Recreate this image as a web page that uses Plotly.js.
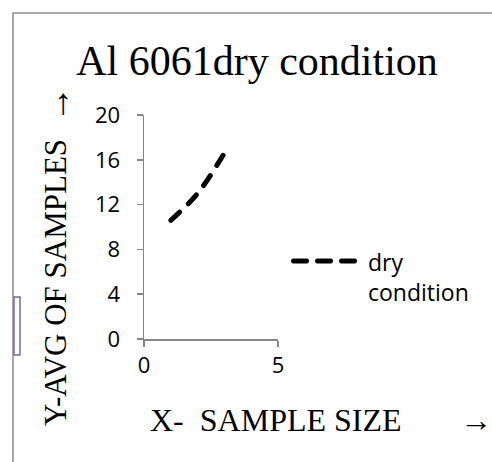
<!DOCTYPE html>
<html>
<head>
<meta charset="utf-8">
<script src="https://cdn.plot.ly/plotly-3.0.1.min.js"></script>
<style>
html,body{margin:0;padding:0;background:#fff;}
#chart{width:492px;height:462px;}
.js-line{stroke-linecap:round;}
.shapelayer path{stroke-linecap:round;}
</style>
</head>
<body>
<div id="chart"></div>
<script>
// Data
const sampleSize = [1, 2, 3];
const avgOfSamples = [10.6, 13.0, 16.6];
const seriesName = "dry<br>condition";
const chartTitle = "Al 6061dry condition";
const xTitle = "X-  SAMPLE SIZE";
const yTitle = "Y-AVG OF SAMPLES";
const xTicks = [0, 5];
const yTicks = [0, 4, 8, 12, 16, 20];

const axisColor = "#868686";
const tickFont = {family: "Open Sans, sans-serif", size: 22, color: "#000"};
const serif = "Liberation Serif, Times New Roman, serif";

// plot area in pixels: x 144..278, y 115..339
const px = v => (v - 144) / 134;
const py = v => (339 - v) / 224;

const trace = {
  x: sampleSize, y: avgOfSamples, type: "scatter", mode: "lines",
  name: seriesName, showlegend: false,
  line: {color: "#000", width: 5, dash: "12px,12px", shape: "spline"}
};

const layout = {
  width: 492, height: 462,
  margin: {l: 144, r: 214, t: 115, b: 123},
  paper_bgcolor: "#fff", plot_bgcolor: "#fff",
  showlegend: false,
  title: {text: chartTitle, font: {family: serif, size: 42, color: "#000"},
          xref: "container", x: 257/492, xanchor: "center",
          yref: "container", y: 1 - 60/462, yanchor: "middle"},
  xaxis: {range: [0, 5], tickvals: xTicks, ticktext: xTicks.map(String),
          showline: true, linecolor: axisColor, linewidth: 1.5,
          ticks: "outside", ticklen: 6, tickcolor: axisColor, tickwidth: 1.5,
          showgrid: false, zeroline: false, tickfont: tickFont, fixedrange: true},
  yaxis: {range: [0, 20], tickvals: yTicks, ticktext: yTicks.map(String),
          showline: true, linecolor: axisColor, linewidth: 1.5,
          ticks: "outside", ticklen: 6, tickcolor: axisColor, tickwidth: 1.5,
          ticklabelstandoff: 12,
          showgrid: false, zeroline: false, tickfont: tickFont, fixedrange: true},
  annotations: [
    {text: xTitle, xref: "paper", yref: "paper", x: px(276), y: py(420),
     xanchor: "center", yanchor: "middle", showarrow: false,
     font: {family: serif, size: 32, color: "#000"}},
    {text: "\u2192", xref: "paper", yref: "paper", x: px(476), y: py(420),
     xanchor: "center", yanchor: "middle", showarrow: false,
     font: {family: serif, size: 32, color: "#000"}},
    {text: yTitle, xref: "paper", yref: "paper", x: px(55), y: py(283),
     xanchor: "center", yanchor: "middle", showarrow: false, textangle: -90,
     font: {family: serif, size: 31, color: "#000"}},
    {text: "\u2192", xref: "paper", yref: "paper", x: px(57), y: py(104),
     xanchor: "center", yanchor: "middle", showarrow: false, textangle: -90,
     font: {family: serif, size: 36, color: "#000"}},
    // legend text
    {text: seriesName, xref: "paper", yref: "paper", x: px(366), y: py(277),
     xanchor: "left", yanchor: "middle", align: "left", showarrow: false,
     font: {family: "Open Sans, sans-serif", size: 23, color: "#000"}}
  ],
  shapes: [
    {type: "rect", xref: "paper", yref: "paper",
     x0: px(13), x1: px(600), y0: py(600), y1: py(13),
     line: {color: "#8c8c8c", width: 1.5}, fillcolor: "rgba(0,0,0,0)", layer: "below"},
    {type: "rect", xref: "paper", yref: "paper",
     x0: px(14), x1: px(20), y0: py(355), y1: py(297),
     line: {color: "#8064A2", width: 1.5}, fillcolor: "#fff", layer: "above"},
    // legend line sample
    {type: "line", xref: "paper", yref: "paper",
     x0: px(293.5), x1: px(355), y0: py(261), y1: py(261),
     line: {color: "#000", width: 5, dash: "13px,11px"}}
  ]
};

Plotly.newPlot("chart", [trace], layout, {displayModeBar: false, staticPlot: true});
</script>
</body>
</html>
